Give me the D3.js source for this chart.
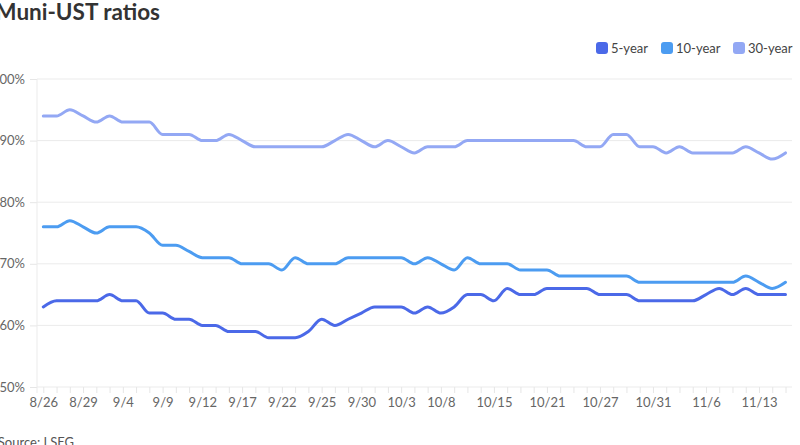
<!DOCTYPE html>
<html lang="en">
<head>
    <meta charset="UTF-8">
    <title>Muni-UST ratios</title>
    <style>
        body {
            margin: 0;
            padding: 0;
            background-color: #ffffff;
            overflow: hidden;
        }
        svg {
            display: block;
            font-family: Lato, "Noto Sans", sans-serif;
        }
        .tick text {
            font-size: 13px;
            fill: #666666;
        }
    </style>
    <script src="https://d3js.org/d3.v7.min.js"></script>
</head>
<body>
    <script>
        const width = 800;
        const height = 445;

        // categories (trading days)
        const dates = [
            "8/26", "8/27", "8/28", "8/29", "8/30", "9/3", "9/4", "9/5", "9/6", "9/9",
            "9/10", "9/11", "9/12", "9/13", "9/16", "9/17", "9/18", "9/19", "9/22", "9/23",
            "9/24", "9/25", "9/26", "9/27", "9/30", "10/1", "10/2", "10/3", "10/4", "10/7",
            "10/8", "10/9", "10/10", "10/11", "10/15", "10/16", "10/17", "10/18", "10/21", "10/22",
            "10/23", "10/24", "10/27", "10/28", "10/29", "10/30", "10/31", "11/1", "11/4", "11/5",
            "11/6", "11/7", "11/8", "11/12", "11/13", "11/14", "11/15"
        ];

        // labelled ticks on the x axis
        const tickLabels = [
            "8/26", "8/29", "9/4", "9/9", "9/12", "9/17", "9/22", "9/25", "9/30",
            "10/3", "10/8", "10/15", "10/21", "10/27", "10/31", "11/6", "11/13"
        ];

        const yTicks = [50, 60, 70, 80, 90, 100];

        const fiveYear = [
            63, 64, 64, 64, 64, 65, 64, 64, 62, 62,
            61, 61, 60, 60, 59, 59, 59, 58, 58, 58,
            59, 61, 60, 61, 62, 63, 63, 63, 62, 63,
            62, 63, 65, 65, 64, 66, 65, 65, 66, 66,
            66, 66, 65, 65, 65, 64, 64, 64, 64, 64,
            65, 66, 65, 66, 65, 65, 65
        ];

        const tenYear = [
            76, 76, 77, 76, 75, 76, 76, 76, 75, 73,
            73, 72, 71, 71, 71, 70, 70, 70, 69, 71,
            70, 70, 70, 71, 71, 71, 71, 71, 70, 71,
            70, 69, 71, 70, 70, 70, 69, 69, 69, 68,
            68, 68, 68, 68, 68, 67, 67, 67, 67, 67,
            67, 67, 67, 68, 67, 66, 67
        ];

        const thirtyYear = [
            94, 94, 95, 94, 93, 94, 93, 93, 93, 91,
            91, 91, 90, 90, 91, 90, 89, 89, 89, 89,
            89, 89, 90, 91, 90, 89, 90, 89, 88, 89,
            89, 89, 90, 90, 90, 90, 90, 90, 90, 90,
            90, 89, 89, 91, 91, 89, 89, 88, 89, 88,
            88, 88, 88, 89, 88, 87, 88
        ];

        const seriesNames = ["5-year", "10-year", "30-year"];
        const seriesColors = ["#4b69e8", "#4c9cf1", "#93a8f4"];
        const seriesValues = [fiveYear, tenYear, thirtyYear];

        const plotLeft = 37;
        const plotRight = 792;

        const x = d3.scalePoint()
            .domain(dates)
            .range([43.3, 785.5]);

        const y = d3.scaleLinear()
            .domain([50, 100])
            .range([387, 79]);

        const svg = d3.select("body").append("svg")
            .attr("width", width)
            .attr("height", height);

        // title (left edge is cropped in the original too)
        svg.append("text")
            .attr("x", 160)
            .attr("y", 20)
            .attr("text-anchor", "end")
            .attr("font-size", "22.5px")
            .attr("font-weight", "bold")
            .attr("fill", "#333333")
            .text("Muni-UST ratios");

        // gridlines
        svg.append("g")
            .selectAll("line")
            .data(yTicks)
            .enter().append("line")
            .attr("x1", plotLeft)
            .attr("x2", plotRight)
            .attr("y1", d => y(d))
            .attr("y2", d => y(d))
            .attr("stroke", "#ebebeb")
            .attr("stroke-width", 1);

        // y axis
        const yAxis = svg.append("g")
            .attr("transform", `translate(${plotLeft},0)`)
            .call(d3.axisLeft(y)
                .tickValues(yTicks)
                .tickSize(7)
                .tickPadding(5)
                .tickFormat(d => d + "%"));
        yAxis.select(".domain").remove();
        yAxis.selectAll(".tick line").attr("stroke", "#e6e6e6");
        yAxis.selectAll(".tick text").attr("font-family", "Lato, sans-serif");

        svg.append("line")
            .attr("x1", plotLeft)
            .attr("x2", plotLeft)
            .attr("y1", y(100))
            .attr("y2", y(50) + 6)
            .attr("stroke", "#ebebeb");

        // x axis
        const xAxis = svg.append("g")
            .attr("transform", `translate(0,${y(50)})`)
            .call(d3.axisBottom(x)
                .tickValues(dates)
                .tickSize(6)
                .tickPadding(5)
                .tickFormat(d => tickLabels.includes(d) ? d : ""));
        xAxis.select(".domain").remove();
        xAxis.selectAll(".tick line").attr("stroke", "#e6e6e6");
        xAxis.selectAll(".tick text").attr("font-family", "Lato, sans-serif");

        // lines
        const line = d3.line()
            .x((d, i) => x(dates[i]))
            .y(d => y(d))
            .curve(d3.curveMonotoneX);

        svg.append("g")
            .selectAll("path")
            .data(seriesValues)
            .enter().append("path")
            .attr("d", d => line(d))
            .attr("fill", "none")
            .attr("stroke", (d, i) => seriesColors[i])
            .attr("stroke-width", 3)
            .attr("stroke-linejoin", "round")
            .attr("stroke-linecap", "round");

        // legend
        const legendX = [596, 661, 733];
        const legend = svg.append("g")
            .selectAll("g")
            .data(seriesNames)
            .enter().append("g")
            .attr("transform", (d, i) => `translate(${legendX[i]},42)`);

        legend.append("rect")
            .attr("width", 12)
            .attr("height", 12)
            .attr("rx", 3)
            .attr("fill", (d, i) => seriesColors[i]);

        legend.append("text")
            .attr("x", 15)
            .attr("y", 6)
            .attr("dominant-baseline", "central")
            .attr("font-size", "13px")
            .attr("fill", "#444444")
            .text(d => d);

        // source note
        svg.append("text")
            .attr("x", 74)
            .attr("y", 447)
            .attr("text-anchor", "end")
            .attr("font-size", "13px")
            .attr("fill", "#555555")
            .text("Source: LSEG");
    </script>
</body>
</html>
